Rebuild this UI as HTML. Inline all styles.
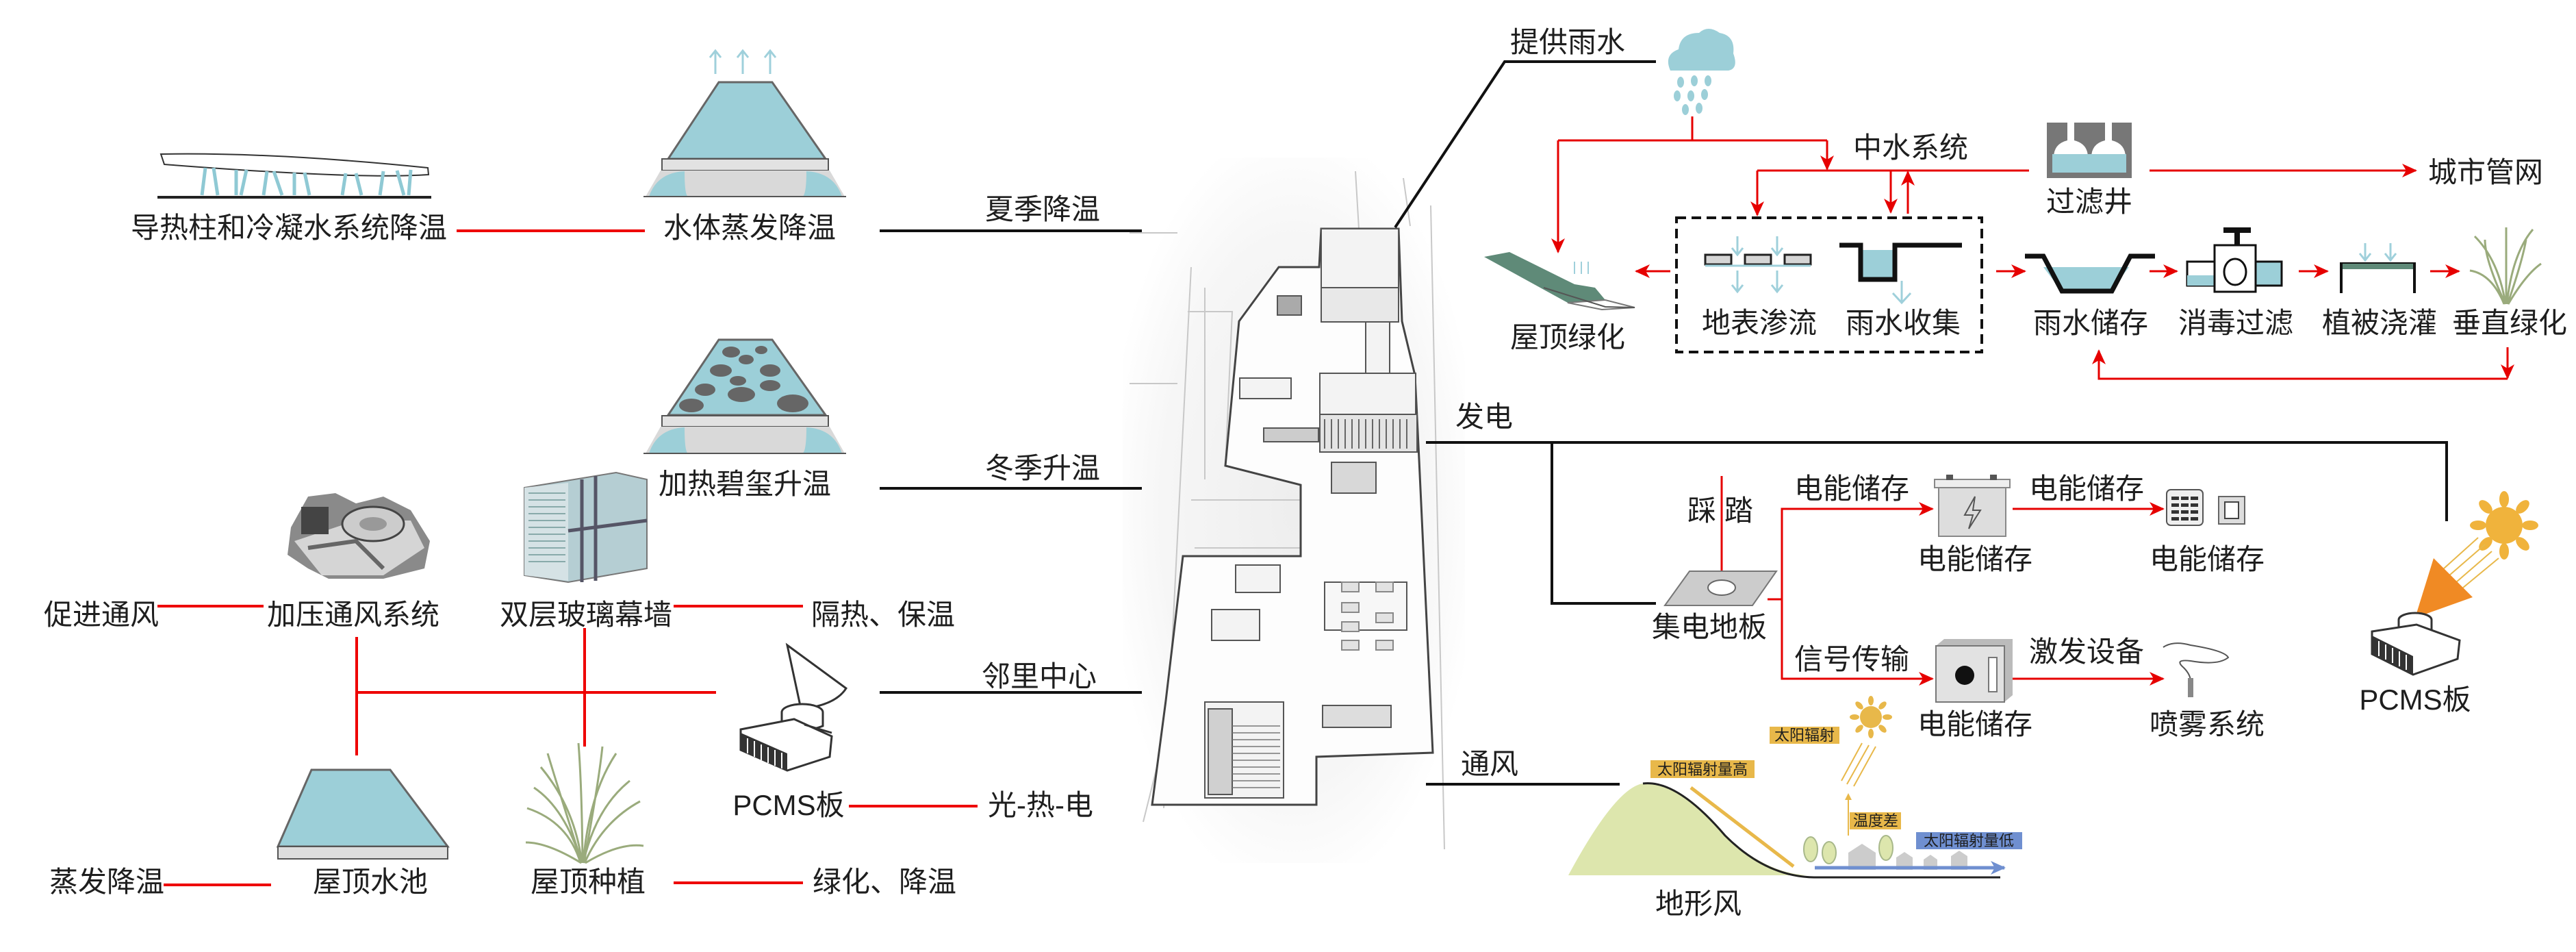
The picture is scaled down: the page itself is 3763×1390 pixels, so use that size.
<!DOCTYPE html>
<html><head><meta charset="utf-8"><style>
html,body{margin:0;padding:0;background:#fff;}
svg{display:block;}
text{font-family:"Liberation Sans","Noto Sans CJK SC",sans-serif;fill:#1e1e1e;}
.t{font-size:42px;text-anchor:middle;}
.s{font-size:22px;text-anchor:middle;}
</style></head><body>
<svg width="3763" height="1390" viewBox="0 0 3763 1390" xmlns="http://www.w3.org/2000/svg">
<defs>
<radialGradient id="bg" cx="50%" cy="50%" r="55%"><stop offset="0" stop-color="#eeeeee"/><stop offset="0.7" stop-color="#f6f6f6"/><stop offset="1" stop-color="#fff"/></radialGradient>
<marker id="arr" markerWidth="22" markerHeight="20" refX="20" refY="10" orient="auto" markerUnits="userSpaceOnUse"><path d="M0,0 L22,10 L0,20 L6,10 z" fill="#e60000"/></marker>
<marker id="ab" markerWidth="22" markerHeight="20" refX="20" refY="10" orient="auto" markerUnits="userSpaceOnUse"><path d="M0,0 L22,10 L0,20 L6,10 z" fill="#6f8fd0"/></marker>
</defs>

<!-- building render -->
<rect x="1640" y="230" width="500" height="1030" fill="url(#bg)"/>
<g stroke="#c8c8c8" stroke-width="2" fill="none">
<path d="M1650 340 L1720 340 M1650 560 L1720 560 M1740 390 L1700 1180 M1760 420 L1760 700 M2090 300 L2110 1240 M1670 1200 L1720 1000 M1735 455 L1800 455 L1790 680 M1740 730 L1900 730 L1900 800 L1745 800 M1980 250 L1985 334 M2050 260 L2060 330"/>
</g>
<path d="M1930 334 L2043 334 L2048 469 L2067 548 L2073 671 L2093 1099 L1923 1105 L1923 1175 L1683 1175 L1703 1023 L1728 812 L1900 812 L1900 708 L1790 680 L1810 469 L1868 390 L1927 390 Z" fill="#fdfdfd" stroke="#444" stroke-width="3"/>
<g fill="#f3f3f3" stroke="#555" stroke-width="2">
<rect x="1930" y="334" width="113" height="115"/>
<rect x="1930" y="420" width="113" height="50" fill="#e8e8e8"/>
<rect x="1928" y="545" width="140" height="68"/>
<rect x="1928" y="605" width="142" height="55" fill="#e4e4e4"/>
<rect x="1811" y="552" width="75" height="30"/>
<rect x="1866" y="432" width="35" height="28" fill="#aaa"/>
<rect x="1846" y="625" width="80" height="20" fill="#ccc"/>
<rect x="1805" y="825" width="65" height="40"/>
<rect x="1770" y="890" width="70" height="45"/>
<rect x="1760" y="1025" width="115" height="140"/>
<rect x="1765" y="1035" width="35" height="125" fill="#d0d0d0"/>
<rect x="1932" y="1030" width="100" height="32" fill="#ddd"/>
<rect x="1945" y="675" width="65" height="45" fill="#d8d8d8"/>
<rect x="1995" y="470" width="35" height="75"/>
<rect x="1935" y="850" width="120" height="70" fill="#f7f7f7"/>
</g>
<g stroke="#888" stroke-width="2" fill="#e2e2e2">
<rect x="1960" y="850" width="25" height="14"/><rect x="2010" y="850" width="25" height="14"/>
<rect x="1960" y="880" width="25" height="14"/><rect x="2010" y="895" width="25" height="14"/>
<rect x="1960" y="908" width="25" height="14"/><rect x="1960" y="935" width="25" height="14"/><rect x="2010" y="935" width="25" height="14"/>
</g>
<g stroke="#666" stroke-width="2"><path d="M1935 612 V655 M1945 612 V655 M1955 612 V655 M1965 612 V655 M1975 612 V655 M1985 612 V655 M1995 612 V655 M2005 612 V655 M2015 612 V655 M2025 612 V655 M2035 612 V655 M2045 612 V655 M2055 612 V655"/></g>
<g stroke="#777" stroke-width="1.5"><path d="M1800 1060 H1870 M1800 1070 H1870 M1800 1080 H1870 M1800 1090 H1870 M1800 1100 H1870 M1800 1110 H1870 M1800 1120 H1870 M1800 1130 H1870 M1800 1140 H1870 M1800 1150 H1870"/></g>

<!-- LEFT SIDE -->
<path d="M235 225 Q400 222 625 245 L626 255 Q520 262 240 240 Z" fill="#fff" stroke="#333" stroke-width="2"/>
<g stroke="#8fc9d4" stroke-width="5"><path d="M300 245 L295 285 M312 245 L318 285 M345 248 V285 M360 248 L352 285 M390 250 L385 285 M400 250 L412 285 M430 252 V285 M445 252 L452 285 M505 253 L500 285 M520 253 L528 285 M560 250 L555 285 M580 249 L590 285 M600 248 L597 285"/></g>
<line x1="230" y1="288" x2="630" y2="288" stroke="#222" stroke-width="4"/>
<text class="t" x="422" y="347">导热柱和冷凝水系统降温</text>
<line x1="667" y1="337" x2="942" y2="337" stroke="#e00" stroke-width="4"/>

<g stroke="#9fd0db" stroke-width="3" fill="none"><path d="M1045 108 V76 M1037 84 L1045 74 L1053 84 M1085 108 V76 M1077 84 L1085 74 L1093 84 M1125 108 V76 M1117 84 L1125 74 L1133 84"/></g>
<path d="M1050 120 L1128 120 L1206 232 L976 232 Z" fill="#9ccfd8" stroke="#666" stroke-width="3"/>
<rect x="967" y="232" width="243" height="17" fill="#e2e2e2" stroke="#555" stroke-width="2"/>
<path d="M943 287 L965 249 L1212 249 L1234 287 Z" fill="#d9d9d9"/>
<path d="M948 287 Q960 252 1000 250 Q1000 285 1005 287 Z M1230 287 Q1218 252 1178 250 Q1178 285 1172 287 Z" fill="#9ccfd8"/>
<line x1="940" y1="287" x2="1236" y2="287" stroke="#555" stroke-width="2"/>
<text class="t" x="1095" y="347">水体蒸发降温</text>
<text class="t" x="1523" y="320">夏季降温</text>
<line x1="1285" y1="337" x2="1668" y2="337" stroke="#111" stroke-width="4"/>

<path d="M1050 496 L1128 496 L1206 606 L976 606 Z" fill="#9ccfd8" stroke="#666" stroke-width="3"/>
<g fill="#666"><ellipse cx="1068" cy="514" rx="13" ry="8"/><ellipse cx="1090" cy="525" rx="11" ry="7"/><ellipse cx="1112" cy="511" rx="9" ry="6"/><ellipse cx="1053" cy="541" rx="16" ry="9"/><ellipse cx="1125" cy="541" rx="15" ry="9"/><ellipse cx="1078" cy="556" rx="12" ry="7"/><ellipse cx="1125" cy="563" rx="15" ry="8"/><ellipse cx="1030" cy="569" rx="15" ry="9"/><ellipse cx="1083" cy="576" rx="20" ry="11"/><ellipse cx="1158" cy="589" rx="23" ry="13"/><ellipse cx="1010" cy="592" rx="18" ry="10"/></g>
<rect x="967" y="607" width="243" height="16" fill="#e2e2e2" stroke="#555" stroke-width="2"/>
<path d="M943 662 L965 623 L1212 623 L1234 662 Z" fill="#d9d9d9"/>
<path d="M948 662 Q960 626 1000 624 Q1000 660 1005 662 Z M1230 662 Q1218 626 1178 624 Q1178 660 1172 662 Z" fill="#9ccfd8"/>
<line x1="940" y1="662" x2="1236" y2="662" stroke="#555" stroke-width="2"/>
<text class="t" x="1088" y="721">加热碧玺升温</text>
<text class="t" x="1523" y="698">冬季升温</text>
<line x1="1285" y1="713" x2="1668" y2="713" stroke="#111" stroke-width="4"/>

<g>
<path d="M425 770 L450 725 L490 720 L520 735 L560 725 L600 745 L628 790 L620 830 L560 845 L480 845 L450 830 L420 810 Z" fill="#8a8a8a"/>
<path d="M430 790 L520 760 L600 760 L620 800 L560 840 L470 840 Z" fill="#d5d5d5"/>
<ellipse cx="545" cy="765" rx="45" ry="25" fill="#ccc" stroke="#444" stroke-width="3"/>
<ellipse cx="545" cy="765" rx="20" ry="10" fill="#999"/>
<path d="M450 800 L520 790 L560 830" stroke="#666" stroke-width="6" fill="none"/>
<rect x="440" y="740" width="40" height="40" fill="#444"/>
</g>
<g>
<path d="M766 712 L900 690 L945 700 L945 830 L830 850 L766 840 Z" fill="#b5ced3" stroke="#777" stroke-width="2"/>
<path d="M766 712 L830 705 L830 848 L766 840 Z" fill="#d5e2e5"/>
<g stroke="#8aa" stroke-width="2"><path d="M772 720 H826 M772 730 H826 M772 740 H826 M772 750 H826 M772 760 H826 M772 770 H826 M772 780 H826 M772 790 H826 M772 800 H826 M772 810 H826 M772 820 H826"/></g>
<path d="M850 700 V850 M870 695 V848 M830 775 L945 760" stroke="#556" stroke-width="5"/>
</g>
<text class="t" x="148" y="912">促进通风</text>
<line x1="230" y1="885" x2="385" y2="885" stroke="#e00" stroke-width="4"/>
<text class="t" x="516" y="912">加压通风系统</text>
<text class="t" x="856" y="912">双层玻璃幕墙</text>
<line x1="984" y1="885" x2="1173" y2="885" stroke="#e00" stroke-width="4"/>
<text class="t" x="1290" y="912">隔热、保温</text>
<g stroke="#e00" stroke-width="4"><path d="M521 930 V1103 M521 1011 H1046 M854 917 V1090"/></g>

<g>
<path d="M1150 942 L1236 1005 Q1220 1030 1170 1035 Z" fill="#fff" stroke="#333" stroke-width="3"/>
<ellipse cx="1172" cy="1040" rx="30" ry="12" fill="#fff" stroke="#333" stroke-width="3"/>
<path d="M1142 1040 V1060 Q1172 1072 1202 1060 V1040" fill="#fff" stroke="#333" stroke-width="3"/>
<path d="M1082 1065 L1160 1050 L1215 1075 L1212 1105 L1150 1125 L1082 1095 Z" fill="#fff" stroke="#333" stroke-width="3"/>
<path d="M1082 1070 L1150 1100 L1150 1125 L1082 1095 Z" fill="#333"/>
<g stroke="#fff" stroke-width="2"><path d="M1092 1078 V1100 M1102 1082 V1105 M1112 1087 V1110 M1122 1091 V1114 M1132 1095 V1118 M1142 1099 V1122"/></g>
<path d="M1175 1058 L1215 1070" stroke="#333" stroke-width="3"/>
</g>
<text class="t" x="1518" y="1002">邻里中心</text>
<line x1="1285" y1="1011" x2="1668" y2="1011" stroke="#111" stroke-width="4"/>
<text class="t" x="1152" y="1190">PCMS板</text>
<line x1="1240" y1="1177" x2="1428" y2="1177" stroke="#e00" stroke-width="4"/>
<text class="t" x="1520" y="1190">光-热-电</text>

<path d="M455 1124 L570 1124 L654 1236 L406 1236 Z" fill="#9ccfd8" stroke="#666" stroke-width="3"/>
<rect x="406" y="1236" width="248" height="18" fill="#dedede" stroke="#555" stroke-width="2"/>
<g stroke="#9aab7c" stroke-width="3" fill="none">
<path d="M850 1260 Q840 1180 790 1120 M852 1260 Q860 1160 900 1100 M848 1260 Q830 1200 770 1180 M854 1260 Q880 1200 935 1170 M851 1260 Q850 1150 845 1085 M850 1260 Q815 1150 800 1100 M853 1260 Q875 1140 880 1090 M849 1260 Q800 1230 768 1230 M855 1260 Q905 1230 940 1235 M852 1260 Q870 1180 920 1140 M850 1260 Q825 1180 780 1150"/>
</g>
<text class="t" x="156" y="1302">蒸发降温</text>
<line x1="239" y1="1292" x2="396" y2="1292" stroke="#e00" stroke-width="4"/>
<text class="t" x="541" y="1302">屋顶水池</text>
<text class="t" x="859" y="1302">屋顶种植</text>
<line x1="984" y1="1289" x2="1173" y2="1289" stroke="#e00" stroke-width="4"/>
<text class="t" x="1292" y="1302">绿化、降温</text>

<!-- RIGHT SIDE -->
<path d="M2038 332 L2198 90 L2419 90" stroke="#111" stroke-width="4" fill="none"/>
<text class="t" x="2290" y="76">提供雨水</text>
<path d="M2440 103 Q2430 80 2452 72 Q2455 48 2482 48 Q2495 36 2512 48 Q2535 52 2532 78 Q2540 100 2525 103 Z" fill="#9ccfd8"/>
<g fill="#9ccfd8"><ellipse cx="2455" cy="120" rx="5" ry="8"/><ellipse cx="2475" cy="118" rx="5" ry="8"/><ellipse cx="2495" cy="118" rx="5" ry="8"/><ellipse cx="2450" cy="140" rx="5" ry="8"/><ellipse cx="2470" cy="140" rx="5" ry="8"/><ellipse cx="2490" cy="138" rx="5" ry="8"/><ellipse cx="2462" cy="160" rx="5" ry="8"/><ellipse cx="2482" cy="158" rx="5" ry="8"/></g>
<g stroke="#e60000" stroke-width="3" fill="none">
<path d="M2472 170 V205 M2276 205 H2669"/>
<path d="M2276 205 V368" marker-end="url(#arr)"/>
<path d="M2669 205 V247" marker-end="url(#arr)"/>
<path d="M2567 249 H2964"/>
<path d="M2567 249 V314" marker-end="url(#arr)"/>
<path d="M2762 249 V310" marker-end="url(#arr)"/>
<path d="M2787 312 V251" marker-end="url(#arr)"/>
<path d="M3140 249 H3529" marker-end="url(#arr)"/>
<path d="M2440 396 H2390" marker-end="url(#arr)"/>
<path d="M2916 396 H2958" marker-end="url(#arr)"/>
<path d="M3140 396 H3180" marker-end="url(#arr)"/>
<path d="M3358 396 H3400" marker-end="url(#arr)"/>
<path d="M3550 396 H3592" marker-end="url(#arr)"/>
<path d="M3663 507 V552" marker-end="url(#arr)"/>
<path d="M3663 553 H3066 V512" marker-end="url(#arr)"/>
</g>
<text class="t" x="2791" y="230">中水系统</text>
<rect x="2990" y="179" width="124" height="81" fill="#777"/>
<path d="M3000 230 Q3000 210 3020 205 V179 H3030 V205 Q3050 210 3050 230 Z M3055 230 Q3055 210 3075 205 V179 H3085 V205 Q3105 210 3105 230 Z" fill="#fff"/>
<rect x="2998" y="225" width="108" height="27" fill="#9ccfd8"/>
<text class="t" x="3052" y="309">过滤井</text>
<text class="t" x="3631" y="266">城市管网</text>
<rect x="2449" y="318" width="446" height="196" fill="none" stroke="#111" stroke-width="4" stroke-dasharray="14,8"/>
<g stroke="#9fd0db" stroke-width="3" fill="none"><path d="M2538 345 V370 M2530 362 L2538 372 L2546 362 M2596 345 V370 M2588 362 L2596 372 L2604 362 M2538 395 V425 M2530 416 L2538 426 L2546 416 M2596 395 V425 M2588 416 L2596 426 L2604 416"/></g>
<g fill="#d5d5d5" stroke="#222" stroke-width="3"><rect x="2491" y="372" width="38" height="14"/><rect x="2549" y="372" width="38" height="14"/><rect x="2607" y="372" width="38" height="14"/></g>
<line x1="2491" y1="388" x2="2645" y2="388" stroke="#9fd0db" stroke-width="3"/>
<rect x="2718" y="365" width="50" height="40" fill="#9ccfd8"/>
<path d="M2687 358 H2718 V408 H2768 V358 H2866" stroke="#111" stroke-width="7" fill="none"/>
<g stroke="#9fd0db" stroke-width="3" fill="none"><path d="M2778 410 V440 M2765 428 L2778 442 L2791 428"/></g>
<text class="t" x="2570" y="486">地表渗流</text>
<text class="t" x="2780" y="486">雨水收集</text>
<path d="M2168 375 L2205 368 L2300 415 L2330 420 L2345 438 L2290 442 Z" fill="#5f8a78"/>
<path d="M2290 442 L2345 438 L2388 449 L2340 452 Z" fill="#fff" stroke="#777" stroke-width="2"/>
<path d="M2255 420 L2345 448 L2388 449" stroke="#555" stroke-width="2" fill="none"/>
<g stroke="#9fd0db" stroke-width="2"><path d="M2300 382 V400 M2310 382 V400 M2320 382 V400"/></g>
<text class="t" x="2290" y="507">屋顶绿化</text>
<path d="M2985 390 L3010 423 L3085 423 L3110 390 Z" fill="#9ccfd8"/>
<path d="M2958 374 H2985 L3012 425 H3085 L3112 374 H3148" stroke="#111" stroke-width="7" fill="none"/>
<text class="t" x="3054" y="486">雨水储存</text>
<rect x="3248" y="332" width="40" height="8" fill="#111"/>
<rect x="3264" y="338" width="8" height="20" fill="#111"/>
<rect x="3195" y="382" width="40" height="35" fill="#fff" stroke="#111" stroke-width="3"/>
<rect x="3195" y="402" width="40" height="15" fill="#9ccfd8"/>
<rect x="3295" y="382" width="38" height="35" fill="#9ccfd8" stroke="#111" stroke-width="3"/>
<rect x="3235" y="358" width="60" height="68" fill="#fff" stroke="#111" stroke-width="3"/>
<ellipse cx="3265" cy="397" rx="16" ry="19" fill="#fff" stroke="#111" stroke-width="3"/>
<text class="t" x="3266" y="486">消毒过滤</text>
<g stroke="#9fd0db" stroke-width="3" fill="none"><path d="M3455 355 V378 M3447 370 L3455 380 L3463 370 M3492 355 V378 M3484 370 L3492 380 L3500 370"/></g>
<path d="M3420 428 V385 H3527 V428" stroke="#111" stroke-width="4" fill="none"/>
<rect x="3422" y="385" width="103" height="8" fill="#5f8a78"/>
<text class="t" x="3476" y="486">植被浇灌</text>
<g stroke="#9aab7c" stroke-width="3" fill="none">
<path d="M3660 444 Q3650 380 3615 345 M3662 444 Q3670 370 3700 335 M3658 444 Q3640 400 3608 395 M3664 444 Q3690 400 3712 385 M3661 444 V332 M3660 444 Q3630 380 3630 350 M3663 444 Q3685 380 3690 350"/>
</g>
<text class="t" x="3666" y="486">垂直绿化</text>

<text class="t" x="2168" y="623">发电</text>
<path d="M2083 646 H3574 V761" stroke="#111" stroke-width="4" fill="none"/>
<path d="M2267 646 V881 H2419" stroke="#111" stroke-width="4" fill="none"/>
<text class="t" x="2513" y="760">踩 踏</text>
<path d="M2515 695 V857" stroke="#e60000" stroke-width="3" marker-end="url(#arr)"/>
<path d="M2432 884 L2468 834 L2595 834 L2560 884 Z" fill="#ccc" stroke="#777" stroke-width="2"/>
<ellipse cx="2515" cy="858" rx="20" ry="11" fill="#fff" stroke="#666" stroke-width="2"/>
<text class="t" x="2497" y="930">集电地板</text>
<g stroke="#e60000" stroke-width="3" fill="none">
<path d="M2582 875 H2603 V743 H2823" marker-end="url(#arr)"/>
<path d="M2603 875 V991 H2823" marker-end="url(#arr)"/>
<path d="M2940 743 H3160" marker-end="url(#arr)"/>
<path d="M2940 991 H3160" marker-end="url(#arr)"/>
</g>
<text class="t" x="2705" y="728">电能储存</text>
<text class="t" x="3048" y="728">电能储存</text>
<rect x="2832" y="707" width="98" height="76" fill="#ddd" stroke="#888" stroke-width="2"/>
<rect x="2826" y="700" width="110" height="12" fill="#eee" stroke="#888" stroke-width="2"/>
<rect x="2843" y="693" width="10" height="8" fill="#555"/><rect x="2907" y="693" width="10" height="8" fill="#555"/>
<path d="M2885 725 L2870 752 H2882 L2876 772 L2893 745 H2882 Z" fill="none" stroke="#555" stroke-width="2"/>
<rect x="3165" y="715" width="53" height="52" rx="6" fill="#eee" stroke="#555" stroke-width="2"/>
<g fill="#333"><rect x="3172" y="725" width="11" height="5"/><rect x="3186" y="725" width="11" height="5"/><rect x="3200" y="725" width="11" height="5"/><rect x="3172" y="735" width="11" height="5"/><rect x="3186" y="735" width="11" height="5"/><rect x="3200" y="735" width="11" height="5"/><rect x="3172" y="745" width="11" height="5"/><rect x="3186" y="745" width="11" height="5"/><rect x="3200" y="745" width="11" height="5"/><rect x="3172" y="755" width="11" height="5"/><rect x="3186" y="755" width="11" height="5"/><rect x="3200" y="755" width="11" height="5"/></g>
<rect x="3241" y="725" width="38" height="40" fill="#ddd" stroke="#666" stroke-width="2"/>
<rect x="3250" y="733" width="20" height="24" fill="#fff" stroke="#444" stroke-width="2"/>
<text class="t" x="2885" y="831">电能储存</text>
<text class="t" x="3224" y="831">电能储存</text>
<text class="t" x="2705" y="977">信号传输</text>
<text class="t" x="3048" y="966">激发设备</text>
<path d="M2828 943 L2840 933 L2940 933 L2940 1015 L2928 1025 Z" fill="#bbb"/>
<rect x="2828" y="943" width="100" height="82" fill="#e2e2e2" stroke="#777" stroke-width="2"/>
<circle cx="2870" cy="986" r="14" fill="#111"/>
<rect x="2905" y="960" width="12" height="50" fill="#fff" stroke="#777" stroke-width="2"/>
<path d="M3160 945 Q3175 935 3200 942 Q3250 950 3255 960 Q3240 972 3200 965 Q3175 962 3190 975 Q3200 985 3200 995" stroke="#555" stroke-width="2" fill="none"/>
<rect x="3196" y="990" width="8" height="28" fill="#888"/>
<text class="t" x="2885" y="1072">电能储存</text>
<text class="t" x="3224" y="1072">喷雾系统</text>
<g fill="#f0b33c"><circle cx="3658" cy="767" r="27"/>
<g transform="translate(3658,767)"><ellipse cx="0" cy="-38" rx="7" ry="12"/><ellipse cx="0" cy="38" rx="7" ry="12"/><ellipse cx="-38" cy="0" rx="12" ry="7"/><ellipse cx="38" cy="0" rx="12" ry="7"/><ellipse cx="27" cy="27" rx="7" ry="12" transform="rotate(-45 27 27)"/><ellipse cx="-27" cy="-27" rx="7" ry="12" transform="rotate(-45 -27 -27)"/><ellipse cx="27" cy="-27" rx="7" ry="12" transform="rotate(45 27 -27)"/><ellipse cx="-27" cy="27" rx="7" ry="12" transform="rotate(45 -27 27)"/></g></g>
<g stroke="#e8b84a" stroke-width="2"><path d="M3620 785 L3570 830 M3630 795 L3578 840 M3640 805 L3588 850 M3650 815 L3598 858"/></g>
<path d="M3555 815 L3612 872 L3528 902 Z" fill="#f08a24"/>
<ellipse cx="3528" cy="905" rx="24" ry="10" fill="#fff" stroke="#333" stroke-width="3"/>
<path d="M3504 905 V920 Q3528 930 3552 920 V905" fill="#fff" stroke="#333" stroke-width="3"/>
<path d="M3465 922 L3530 912 L3593 935 L3590 962 L3525 985 L3465 955 Z" fill="#fff" stroke="#333" stroke-width="3"/>
<path d="M3465 928 L3525 958 L3525 985 L3465 955 Z" fill="#333"/>
<g stroke="#fff" stroke-width="2"><path d="M3475 936 V958 M3485 941 V963 M3495 946 V968 M3505 951 V973 M3515 956 V978"/></g>
<text class="t" x="3528" y="1036">PCMS板</text>

<text class="t" x="2176" y="1130">通风</text>
<line x1="2083" y1="1145" x2="2366" y2="1145" stroke="#111" stroke-width="4"/>
<path d="M2291 1278 Q2360 1150 2400 1144 Q2450 1138 2520 1220 Q2580 1275 2640 1278 Z" fill="#dde6ad"/>
<path d="M2400 1144 Q2450 1138 2520 1220 Q2580 1280 2650 1281 H2922" stroke="#222" stroke-width="3" fill="none"/>
<path d="M2470 1150 L2620 1265" stroke="#e8b84a" stroke-width="5"/>
<g fill="#ccc"><path d="M2700 1270 V1245 L2720 1232 L2740 1245 V1270 Z M2770 1270 V1252 L2782 1244 L2794 1252 V1270 Z M2810 1270 V1255 L2820 1248 L2830 1255 V1270 Z M2850 1270 V1250 L2862 1242 L2874 1250 V1270 Z"/></g>
<g fill="#dde6ad" stroke="#a8b88a" stroke-width="2"><ellipse cx="2645" cy="1240" rx="10" ry="18"/><ellipse cx="2672" cy="1245" rx="10" ry="16"/><ellipse cx="2755" cy="1238" rx="10" ry="18"/></g>
<path d="M2651 1267 H2928" stroke="#6f8fd0" stroke-width="5" marker-end="url(#ab)"/>
<path d="M2700 1220 V1162" stroke="#e8b84a" stroke-width="2"/>
<path d="M2695 1168 L2700 1158 L2705 1168 Z" fill="#e8b84a"/>
<g stroke="#e8b84a" stroke-width="2"><path d="M2720 1085 L2690 1140 M2730 1088 L2698 1145 M2740 1090 L2708 1148"/></g>
<g fill="#e8b84a"><circle cx="2733" cy="1047" r="16"/>
<g transform="translate(2733,1047)"><ellipse cx="0" cy="-24" rx="4" ry="7"/><ellipse cx="0" cy="24" rx="4" ry="7"/><ellipse cx="-24" cy="0" rx="7" ry="4"/><ellipse cx="24" cy="0" rx="7" ry="4"/><ellipse cx="17" cy="17" rx="4" ry="7" transform="rotate(-45 17 17)"/><ellipse cx="-17" cy="-17" rx="4" ry="7" transform="rotate(-45 -17 -17)"/><ellipse cx="17" cy="-17" rx="4" ry="7" transform="rotate(45 17 -17)"/><ellipse cx="-17" cy="17" rx="4" ry="7" transform="rotate(45 -17 17)"/></g></g>
<rect x="2411" y="1110" width="152" height="26" fill="#e8b84a"/>
<text class="s" x="2487" y="1131">太阳辐射量高</text>
<rect x="2585" y="1061" width="102" height="25" fill="#e8b84a"/>
<text class="s" x="2636" y="1081">太阳辐射</text>
<rect x="2702" y="1186" width="75" height="25" fill="#e8b84a"/>
<text class="s" x="2740" y="1206">温度差</text>
<rect x="2799" y="1215" width="155" height="25" fill="#6f8fd0"/>
<text class="s" x="2876" y="1235">太阳辐射量低</text>
<text class="t" x="2481" y="1334">地形风</text>
</svg>
</body></html>
